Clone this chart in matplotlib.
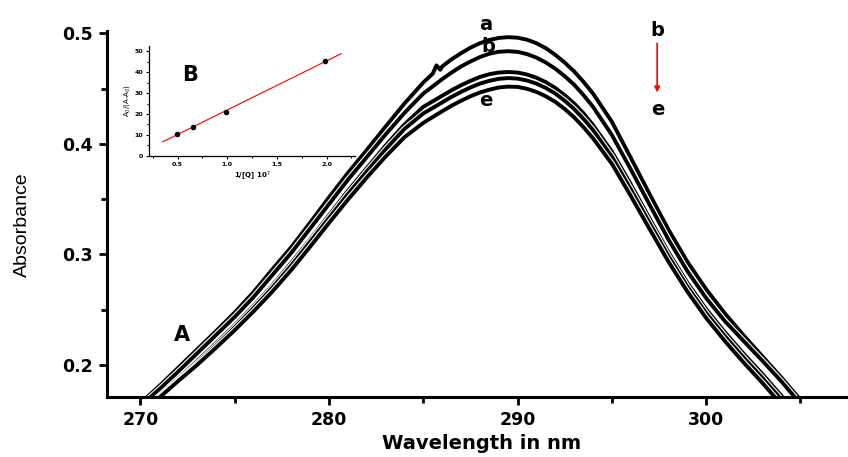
import numpy as np
import matplotlib
matplotlib.use('Agg')
import matplotlib.pyplot as plt
import matplotlib.patheffects as pe

plt.rcParams['font.family'] = ['DejaVu Sans']

# wavelength grid (nm) shared by curves b-e, finer around the peak
wavelength = [270, 271, 272, 273, 274, 275, 276, 277, 278, 279, 280, 281, 282,
              283, 284, 285,
              286, 286.5, 287, 287.5, 288, 288.5, 289, 289.5, 290, 290.5, 291,
              291.5, 292, 292.5, 293, 293.5, 294,
              295, 296, 297, 298, 299, 300, 301, 302, 303, 304, 305]

# curve a has a small kink near 285.7 nm
wavelength_a = [270, 271, 272, 273, 274, 275, 276, 277, 278, 279, 280, 281, 282,
                283, 284, 285, 285.5, 285.7, 285.9,
                286, 286.5, 287, 287.5, 288, 288.5, 289, 289.5, 290, 290.5, 291,
                291.5, 292, 292.5, 293, 293.5, 294,
                295, 296, 297, 298, 299, 300, 301, 302, 303, 304, 305]
abs_a = [0.1655, 0.181, 0.1975, 0.214, 0.2305, 0.2475, 0.266, 0.2866, 0.3066,
         0.3288, 0.3516, 0.3737, 0.3944, 0.4156, 0.4365, 0.4555, 0.4635, 0.471, 0.467,
         0.470, 0.4765, 0.4820, 0.4870, 0.4910, 0.4940, 0.4958, 0.4965, 0.4960,
         0.4942, 0.4910, 0.4865, 0.4805, 0.4735, 0.4655, 0.456, 0.4455,
         0.420, 0.3875, 0.3545, 0.3225, 0.2935, 0.2685, 0.2465, 0.2265, 0.2075, 0.1885, 0.1685]
abs_b = [0.163, 0.178, 0.194, 0.2105, 0.227, 0.2435, 0.2615, 0.2815, 0.3015,
         0.3235, 0.3455, 0.3675, 0.388, 0.4085, 0.428, 0.4455,
         0.4585, 0.4645, 0.4700, 0.4745, 0.4785, 0.4815, 0.4833, 0.4838, 0.4832,
         0.4812, 0.4780, 0.4735, 0.4680, 0.4612, 0.4535, 0.444, 0.4335,
         0.408, 0.377, 0.345, 0.3135, 0.285, 0.2605, 0.2395, 0.2215, 0.2035, 0.185, 0.165]
abs_c = [0.158, 0.172, 0.1875, 0.2035, 0.2195, 0.236, 0.2535, 0.272, 0.2925,
         0.3135, 0.3355, 0.3575, 0.378, 0.3985, 0.4175, 0.4335,
         0.4435, 0.4485, 0.453, 0.457, 0.4605, 0.463, 0.4645, 0.465, 0.4645,
         0.4627, 0.4598, 0.4558, 0.4505, 0.444, 0.4365, 0.4275, 0.417,
         0.393, 0.3635, 0.3325, 0.302, 0.2745, 0.2505, 0.2295, 0.210, 0.1915, 0.172, 0.152]
abs_d = [0.157, 0.1705, 0.186, 0.2015, 0.2175, 0.234, 0.2515, 0.270, 0.290,
         0.3115, 0.333, 0.3545, 0.375, 0.395, 0.4135, 0.4275,
         0.4375, 0.4425, 0.447, 0.451, 0.4545, 0.457, 0.4588, 0.4595, 0.459,
         0.4573, 0.4545, 0.4505, 0.4455, 0.439, 0.4315, 0.4225, 0.4125,
         0.3885, 0.359, 0.3285, 0.2985, 0.271, 0.247, 0.226, 0.2065, 0.188, 0.1685, 0.148]
abs_e = [0.157, 0.1705, 0.1855, 0.200, 0.2155, 0.2315, 0.2485, 0.2665, 0.286,
         0.307, 0.3285, 0.3495, 0.3695, 0.3885, 0.406, 0.419,
         0.4295, 0.4345, 0.439, 0.443, 0.4465, 0.449, 0.451, 0.4518, 0.4515,
         0.4498, 0.447, 0.443, 0.438, 0.4315, 0.424, 0.415, 0.405,
         0.382, 0.353, 0.323, 0.2935, 0.2665, 0.2425, 0.2215, 0.202, 0.1835, 0.164, 0.144]

# inset B: double reciprocal plot
inv_q = [0.49, 0.652, 0.99, 1.98]
ratio = [10.4, 13.9, 21.0, 45.2]
fit_range = [0.35, 2.15]

fig = plt.figure(figsize=(8.48, 4.57), dpi=100)
ax = fig.add_axes([0.126, 0.132, 0.874, 0.800])

stroke = [pe.Stroke(linewidth=4.4, foreground='white'), pe.Normal()]
ax.plot(wavelength_a, abs_a, color='black', lw=2.8, path_effects=stroke)
for ys in [abs_b, abs_c, abs_d, abs_e]:
    ax.plot(wavelength, ys, color='black', lw=2.8, path_effects=stroke)

ax.set_xlim(268.22, 307.52)
ax.set_ylim(0.1714, 0.502)
ax.set_xticks([270, 280, 290, 300])
ax.set_xticks([275, 285, 295, 305], minor=True)
ax.set_yticks([0.2, 0.3, 0.4, 0.5])
ax.set_yticks([0.25, 0.35, 0.45], minor=True)
ax.spines['top'].set_visible(False)
ax.spines['right'].set_visible(False)
for s in ['left', 'bottom']:
    ax.spines[s].set_linewidth(2.2)
ax.tick_params(which='major', direction='out', length=6, width=2, labelsize=12.5, pad=4)
ax.tick_params(which='minor', direction='out', length=4, width=2)
for lab in ax.get_xticklabels() + ax.get_yticklabels():
    lab.set_fontweight('bold')

fig.text(0.568, 0.03, 'Wavelength in nm', ha='center', va='center',
         fontsize=14, fontweight='bold')
fig.text(0.026, 0.508, 'Absorbance', ha='center', va='center', rotation=90,
         fontsize=14, family=['Liberation Sans Narrow', 'Liberation Sans', 'DejaVu Sans'])

lbl = dict(ha='center', va='center', fontsize=14, fontweight='bold', clip_on=False)
ax.text(288.3, 0.508, 'a', **lbl)
ax.text(288.45, 0.488, 'b', **lbl)
ax.text(288.3, 0.4396, 'e', **lbl)
ax.text(297.4, 0.5027, 'b', **lbl)
ax.text(297.45, 0.4315, 'e', **lbl)
ax.text(272.2, 0.227, 'A', ha='center', va='center', fontsize=15, fontweight='bold')
ax.annotate('', xy=(297.4, 0.444), xytext=(297.4, 0.4935),
            arrowprops=dict(arrowstyle='-|>', color='red', lw=1.2, mutation_scale=8))

# inset
ins = fig.add_axes([0.176, 0.659, 0.243, 0.240])
ins.scatter(inv_q, ratio, s=9, color='black', zorder=3)
slope, intercept = np.polyfit(inv_q, ratio, 1)
fx = np.array(fit_range)
ins.plot(fx, slope * fx + intercept, color='red', lw=0.8)
ins.set_xlim(0.215, 2.29)
ins.set_ylim(0, 52.5)
ins.set_xticks([0.5, 1.0, 1.5, 2.0])
ins.set_xticks([0.25, 0.75, 1.25, 1.75, 2.25], minor=True)
ins.set_yticks([0, 10, 20, 30, 40, 50])
ins.set_yticks([5, 15, 25, 35, 45], minor=True)
ins.spines['top'].set_visible(False)
ins.spines['right'].set_visible(False)
for s in ['left', 'bottom']:
    ins.spines[s].set_linewidth(0.9)
ins.tick_params(which='major', direction='out', length=2.5, width=0.8, labelsize=4.5, pad=2)
ins.tick_params(which='minor', direction='out', length=1.5, width=0.8)
for lab in ins.get_xticklabels() + ins.get_yticklabels():
    lab.set_fontweight('bold')
ins.set_xlabel('1/[Q] 10$^7$', fontsize=5, fontweight='bold', labelpad=2)
ins.set_ylabel('A$_0$/(A-A$_0$)', fontsize=5, labelpad=2)
ins.text(0.2, 0.74, 'B', transform=ins.transAxes, ha='center', va='center',
         fontsize=15, fontweight='bold')
ins.patch.set_alpha(0)

fig.savefig('out.png', dpi=100)
